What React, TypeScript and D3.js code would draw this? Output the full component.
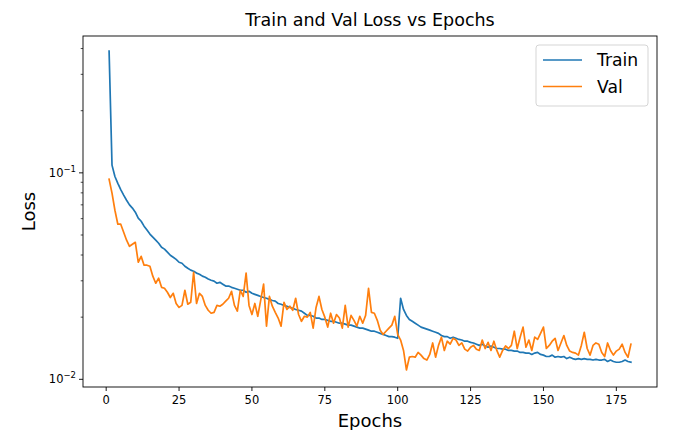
import React from "react";
import * as d3 from "d3";

// Per-epoch loss history (epochs 1..180)
const trainLoss: number[] = [
  0.389, 0.109, 0.096, 0.089, 0.083, 0.078, 0.0737, 0.070, 0.0675, 0.0645,
  0.0603, 0.0583, 0.0552, 0.0528, 0.0505, 0.0488, 0.0472, 0.0456, 0.0436, 0.0427,
  0.0413, 0.0399, 0.0390, 0.0381, 0.0369, 0.0365, 0.0353, 0.0345, 0.0338, 0.0334,
  0.0327, 0.0323, 0.0316, 0.0312, 0.0306, 0.0302, 0.0299, 0.0292, 0.0295, 0.0289,
  0.0283, 0.0283, 0.0279, 0.0276, 0.0273, 0.0270, 0.0270, 0.0264, 0.0267, 0.0261,
  0.0258, 0.0255, 0.0252, 0.0249, 0.0247, 0.0244, 0.0241, 0.0239, 0.0233, 0.0231,
  0.0228, 0.0226, 0.0223, 0.0221, 0.0218, 0.0216, 0.0214, 0.0209, 0.0204, 0.0204,
  0.0202, 0.0198, 0.0198, 0.0195, 0.0195, 0.0193, 0.0191, 0.0191, 0.0189, 0.0187,
  0.0187, 0.0185, 0.0183, 0.0183, 0.0181, 0.0179, 0.0177, 0.0177, 0.0175, 0.0173,
  0.0171, 0.0171, 0.0169, 0.0167, 0.0165, 0.0163, 0.0161, 0.0161, 0.0160, 0.0158,
  0.0247, 0.0218, 0.0204, 0.0195, 0.0191, 0.0187, 0.0183, 0.0179, 0.0177, 0.0175,
  0.0173, 0.0171, 0.0169, 0.0167, 0.0163, 0.0161, 0.0161, 0.0158, 0.0160, 0.0158,
  0.0156, 0.0155, 0.0153, 0.0153, 0.0151, 0.0150, 0.0148, 0.0146, 0.0148, 0.0145,
  0.0143, 0.0145, 0.0143, 0.0141, 0.0141, 0.0140, 0.0140, 0.0138, 0.0138, 0.0137,
  0.0137, 0.0135, 0.0135, 0.0134, 0.0134, 0.0132, 0.0134, 0.0135, 0.0132, 0.0131,
  0.0129, 0.0129, 0.0131, 0.0128, 0.0129, 0.0128, 0.0129, 0.0126, 0.0128, 0.0126,
  0.0125, 0.0126, 0.0125, 0.0126, 0.0125, 0.0125, 0.0124, 0.0125, 0.0124, 0.0124,
  0.0125, 0.0122, 0.0124, 0.0122, 0.0121, 0.0121, 0.0122, 0.0124, 0.0122, 0.0121,
];

const valLoss: number[] = [
  0.0932, 0.0797, 0.0659, 0.0564, 0.0564, 0.0516, 0.0472, 0.0441, 0.0451, 0.0461,
  0.0369, 0.0394, 0.0357, 0.0357, 0.0353, 0.0316, 0.0292, 0.0309, 0.0279, 0.0276,
  0.0264, 0.0249, 0.0261, 0.0233, 0.0223, 0.0228, 0.0270, 0.0231, 0.0236, 0.0330,
  0.0233, 0.0261, 0.0252, 0.0228, 0.0216, 0.0209, 0.0211, 0.0228, 0.0226, 0.0231,
  0.0239, 0.0247, 0.0267, 0.0228, 0.0214, 0.0270, 0.0252, 0.0327, 0.0228, 0.0206,
  0.0233, 0.0202, 0.0241, 0.0289, 0.0181, 0.0252, 0.0226, 0.0211, 0.0198, 0.0181,
  0.0236, 0.0218, 0.0226, 0.0216, 0.0247, 0.0206, 0.0191, 0.0202, 0.0200, 0.0211,
  0.0177, 0.0223, 0.0252, 0.0218, 0.0200, 0.0179, 0.0209, 0.0187, 0.0206, 0.0198,
  0.0177, 0.0228, 0.0179, 0.0204, 0.0193, 0.0181, 0.0202, 0.0187, 0.0204, 0.0276,
  0.0211, 0.0209, 0.0193, 0.0173, 0.0165, 0.0171, 0.0177, 0.0183, 0.0202, 0.0165,
  0.0155, 0.0138, 0.0111, 0.0128, 0.0129, 0.0128, 0.0135, 0.0131, 0.0126, 0.0124,
  0.0132, 0.0150, 0.0128, 0.0146, 0.0160, 0.0138, 0.0153, 0.0148, 0.0158, 0.0155,
  0.0146, 0.0150, 0.0140, 0.0137, 0.0143, 0.0146, 0.0140, 0.0138, 0.0155, 0.0141,
  0.0151, 0.0138, 0.0153, 0.0138, 0.0128, 0.0138, 0.0145, 0.0141, 0.0146, 0.0171,
  0.0141, 0.0160, 0.0179, 0.0143, 0.0155, 0.0138, 0.0160, 0.0156, 0.0167, 0.0179,
  0.0141, 0.0146, 0.0153, 0.0158, 0.0138, 0.0150, 0.0163, 0.0146, 0.0137, 0.0135,
  0.0134, 0.0131, 0.0146, 0.0169, 0.0141, 0.0131, 0.0146, 0.0150, 0.0148, 0.0135,
  0.0129, 0.0150, 0.0138, 0.0131, 0.0137, 0.0140, 0.0148, 0.0135, 0.0128, 0.0148,
];

const epochs: number[] = trainLoss.map((_, i) => i + 1);
const xTicks: number[] = [0, 25, 50, 75, 100, 125, 150, 175];
const yMajorTicks: number[] = [0.01, 0.1];
const yMajorLabels: string[] = ["\u22122", "\u22121"];
const yMinorTicks: number[] = [0.02, 0.03, 0.04, 0.05, 0.06, 0.07, 0.08, 0.09, 0.2, 0.3, 0.4];

const seriesNames = ["Train", "Val"];
const seriesColors = ["#1f77b4", "#ff7f0e"];

const W = 675;
const H = 430;
const plot = { left: 83, right: 657, top: 36, bottom: 387 };
const font = "'DejaVu Sans', sans-serif";

export default function App() {
  const x = d3.scaleLinear().domain([-7.95, 188.95]).range([plot.left, plot.right]);
  const y = d3.scaleLog().domain([0.00918, 0.46]).range([plot.bottom, plot.top]);

  const line = d3
    .line<number>()
    .x((_, i) => x(epochs[i]))
    .y((d) => y(d));

  const series = [trainLoss, valLoss];

  return (
    <svg
      width={W}
      height={H}
      style={{ position: "absolute", left: 0, top: 0, background: "#fff" }}
      fontFamily={font}
    >
      <rect x={0} y={0} width={W} height={H} fill="#fff" />

      {/* title */}
      <text x={(plot.left + plot.right) / 2} y={26} textAnchor="middle" fontSize={17.5} fill="#000">
        Train and Val Loss vs Epochs
      </text>

      <defs>
        <clipPath id="plotClip">
          <rect x={plot.left} y={plot.top} width={plot.right - plot.left} height={plot.bottom - plot.top} />
        </clipPath>
      </defs>

      {/* series */}
      <g clipPath="url(#plotClip)">
        {series.map((s, k) => (
          <path
            key={seriesNames[k]}
            d={line(s) || ""}
            fill="none"
            stroke={seriesColors[k]}
            strokeWidth={1.7}
            strokeLinejoin="round"
            strokeLinecap="square"
          />
        ))}
      </g>

      {/* frame */}
      <rect
        x={plot.left}
        y={plot.top}
        width={plot.right - plot.left}
        height={plot.bottom - plot.top}
        fill="none"
        stroke="#000"
        strokeWidth={0.9}
      />

      {/* x axis */}
      {xTicks.map((t) => (
        <g key={"x" + t}>
          <line x1={x(t)} x2={x(t)} y1={plot.bottom} y2={plot.bottom + 4} stroke="#000" strokeWidth={0.9} />
          <text x={x(t)} y={plot.bottom + 17} textAnchor="middle" fontSize={11.5} fill="#000">
            {t}
          </text>
        </g>
      ))}
      <text x={(plot.left + plot.right) / 2} y={427} textAnchor="middle" fontSize={18} fill="#000">
        Epochs
      </text>

      {/* y axis */}
      {yMinorTicks.map((t) => (
        <line key={"ym" + t} x1={plot.left - 2.3} x2={plot.left} y1={y(t)} y2={y(t)} stroke="#000" strokeWidth={0.7} />
      ))}
      {yMajorTicks.map((t, i) => (
        <g key={"yM" + t}>
          <line x1={plot.left - 4} x2={plot.left} y1={y(t)} y2={y(t)} stroke="#000" strokeWidth={0.9} />
          <text x={plot.left - 7} y={y(t) + 4} textAnchor="end" fontSize={11.5} fill="#000">
            10
            <tspan fontSize={8.5} dy={-5}>
              {yMajorLabels[i]}
            </tspan>
          </text>
        </g>
      ))}
      <text
        transform={`translate(35, ${(plot.top + plot.bottom) / 2}) rotate(-90)`}
        textAnchor="middle"
        fontSize={18}
        fill="#000"
      >
        Loss
      </text>

      {/* legend */}
      <g>
        <rect x={536} y={45} width={112} height={61} rx={3} fill="#fff" fillOpacity={0.8} stroke="#d0d0d0" strokeWidth={0.9} />
        {seriesNames.map((n, k) => (
          <g key={n}>
            <line x1={543} x2={582} y1={60 + k * 26.5} y2={60 + k * 26.5} stroke={seriesColors[k]} strokeWidth={1.7} />
            <text x={597} y={66 + k * 26.5} fontSize={17.2} fill="#000">
              {n}
            </text>
          </g>
        ))}
      </g>
    </svg>
  );
}
